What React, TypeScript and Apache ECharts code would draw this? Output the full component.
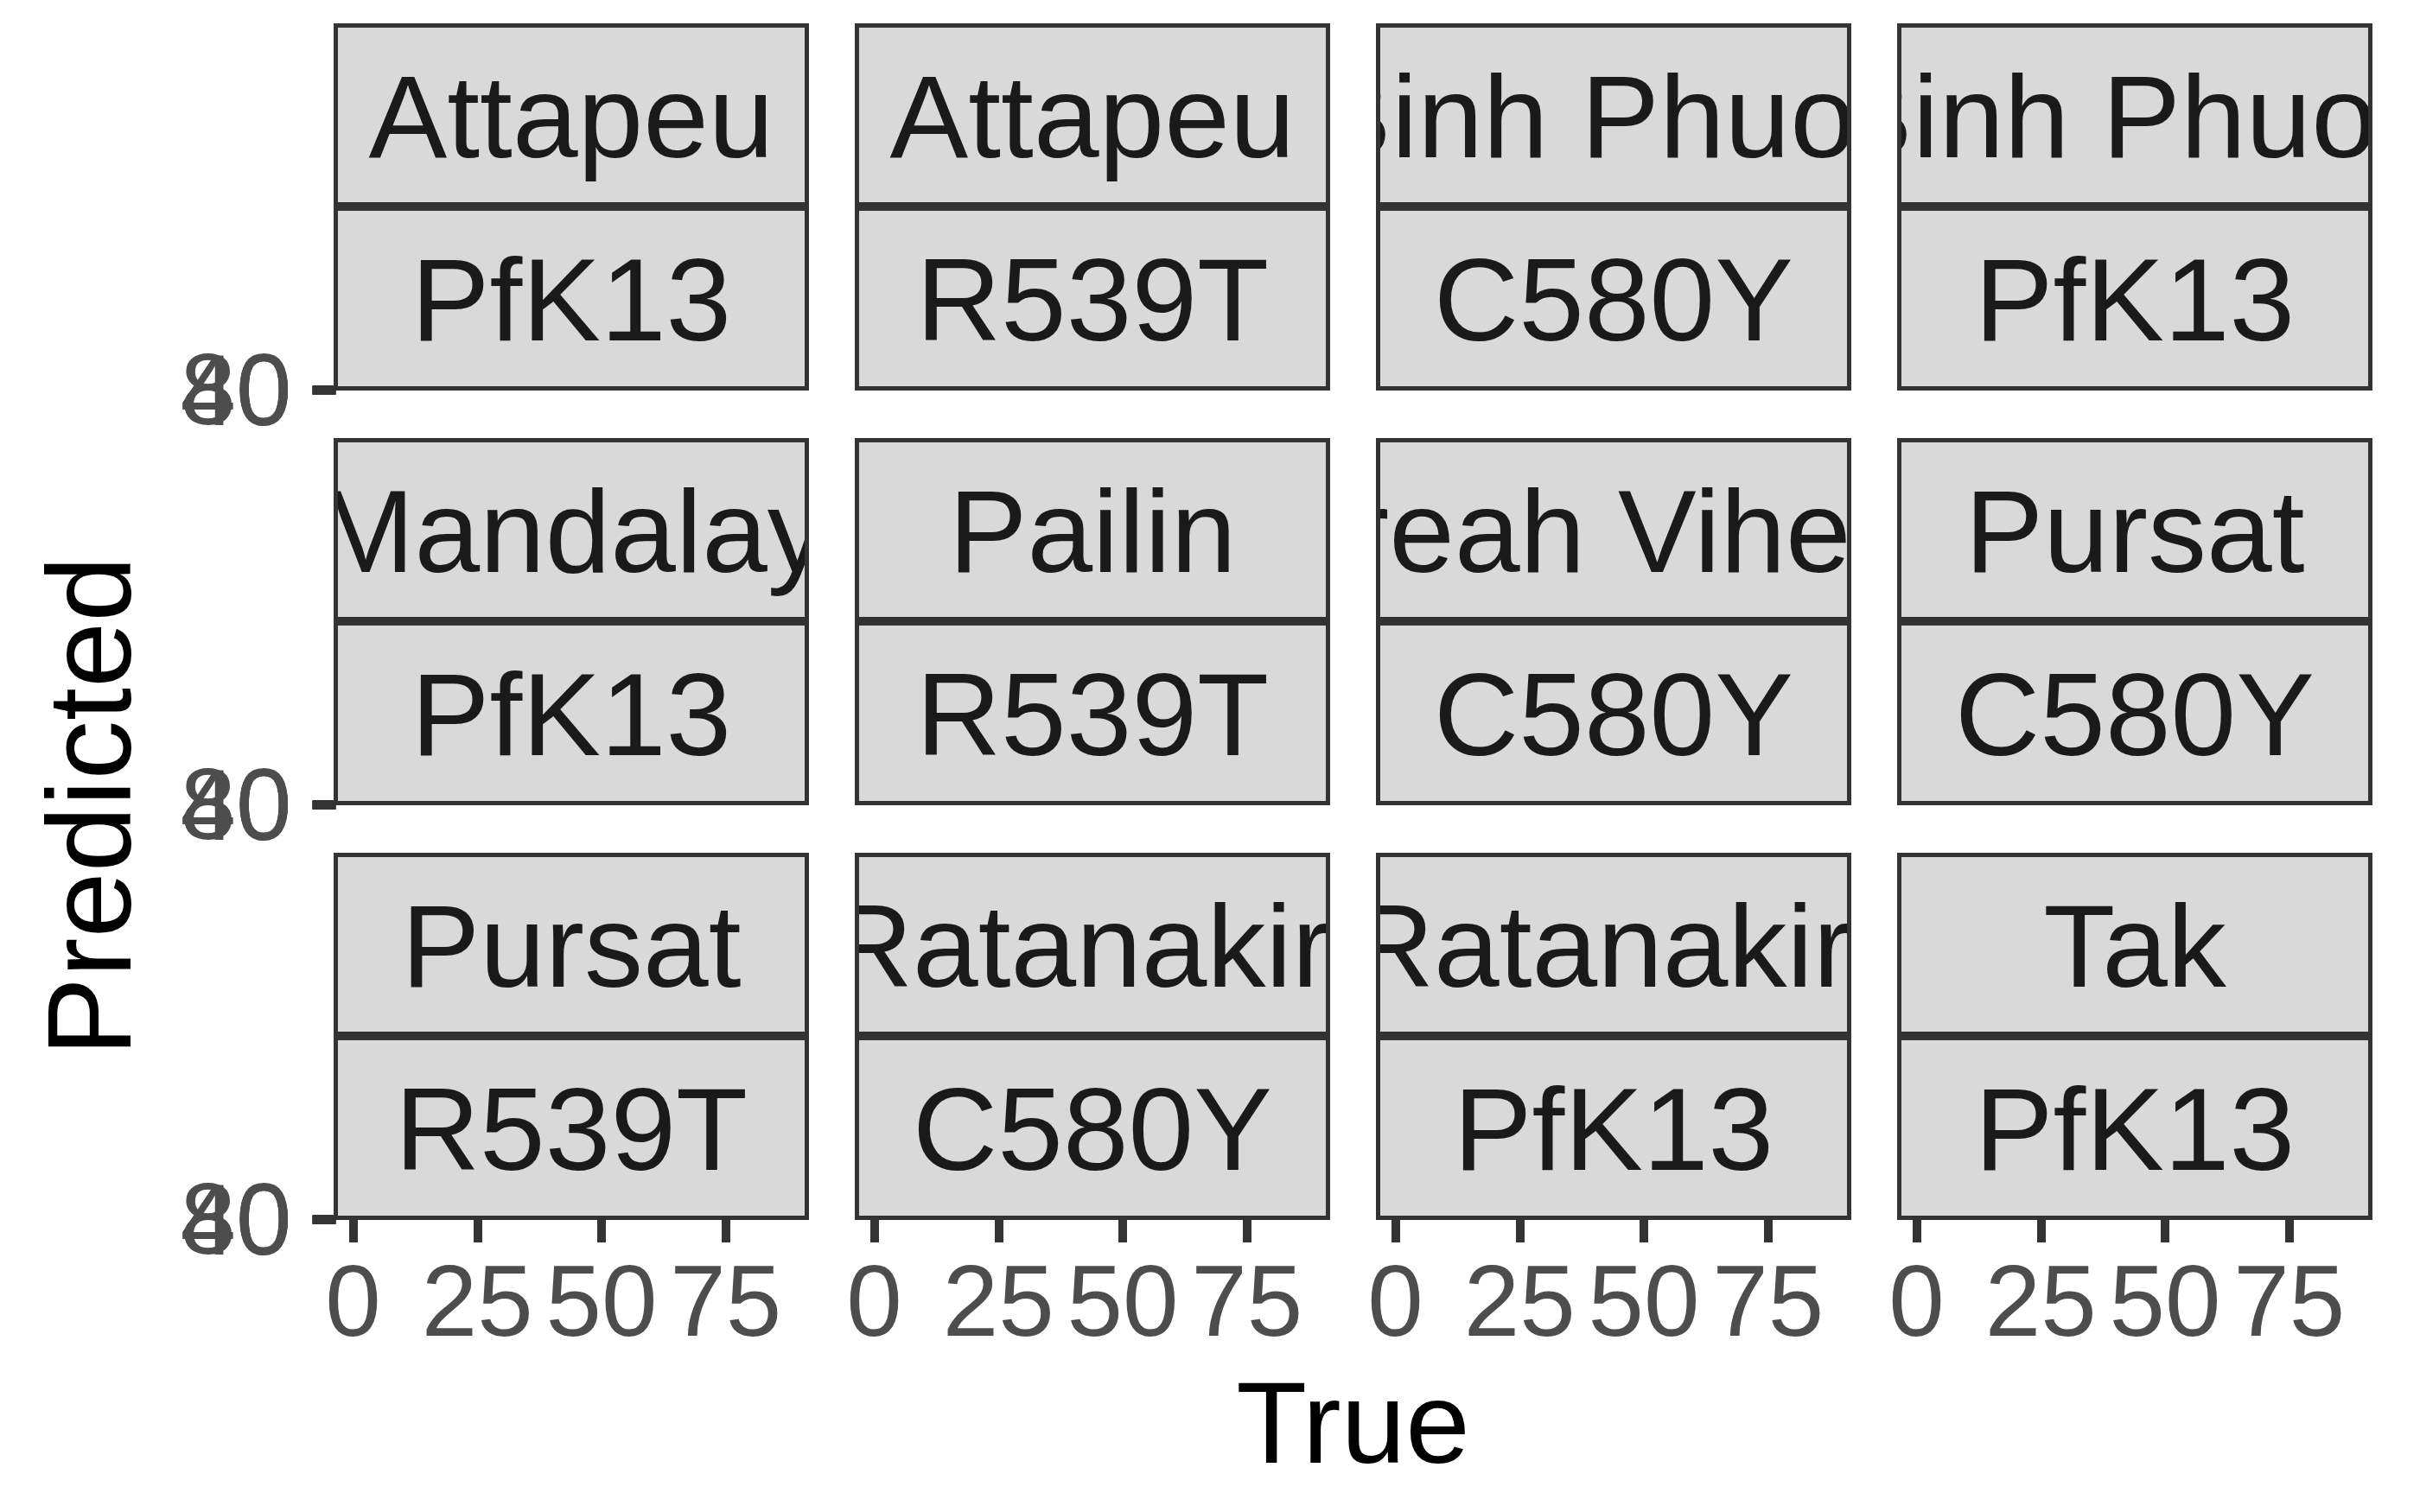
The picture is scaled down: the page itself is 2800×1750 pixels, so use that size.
import React, { useEffect, useRef } from "react";
import * as echarts from "echarts";

// ---- data ----
const regions = [
  "Attapeu", "Attapeu", "Binh Phuoc", "Binh Phuoc",
  "Mandalay", "Pailin", "Preah Vihear", "Pursat",
  "Pursat", "Ratanakiri", "Ratanakiri", "Tak",
];
const mutations = [
  "PfK13", "R539T", "C580Y", "PfK13",
  "PfK13", "R539T", "C580Y", "C580Y",
  "R539T", "C580Y", "PfK13", "PfK13",
];
const xTicks = [0, 25, 50, 75];
const yTicks = [0, 20, 40, 60, 80];
const xRange = [-3.5, 91.3];
const yRange = [0, 80];
const xTitle = "True";
const yTitle = "Predicted";

// ---- layout ----
const NCOL = 4;
const NROW = 3;
const LEFT0 = 388.5;
const PANEL_W = 545;
const COL_STEP = 603;
const TOP0 = 29.5;
const STRIP1_H = 207;
const STRIP_GAP = 5;
const STRIP2_H = 208;
const ROW_STEP = 480;
const PANEL_LINE0 = 452;
const FONT = "'Liberation Sans', Arial, Helvetica, sans-serif";
const STRIP_FS = 136;
const TICK_FS = 116;
const TITLE_FS = 134;
const YTITLE_FS = 137;

export default function App() {
  const ref = useRef<HTMLDivElement>(null);
  useEffect(() => {
    if (!ref.current) return;
    const chart = echarts.init(ref.current, undefined, { renderer: "svg" });
    const grids: any[] = [];
    const xAxes: any[] = [];
    const yAxes: any[] = [];
    for (let i = 0; i < regions.length; i++) {
      const r = Math.floor(i / NCOL);
      const c = i % NCOL;
      grids.push({
        left: LEFT0 + c * COL_STEP,
        width: PANEL_W,
        top: PANEL_LINE0 + r * ROW_STEP - 1,
        height: 1,
        containLabel: false,
      });
      xAxes.push({
        gridIndex: i,
        type: "value",
        position: "bottom",
        min: xRange[0],
        max: xRange[1],
        axisLine: { show: false, onZero: false },
        splitLine: { show: false },
        axisTick: {
          show: r === NROW - 1,
          length: 26,
          customValues: xTicks,
          lineStyle: { width: 10, color: "#333333" },
        },
        axisLabel: {
          show: r === NROW - 1,
          customValues: xTicks,
          fontSize: TICK_FS,
          fontFamily: FONT,
          color: "#4D4D4D",
          margin: 36,
          hideOverlap: false,
        },
      });
      yAxes.push({
        gridIndex: i,
        type: "value",
        position: "left",
        min: yRange[0],
        max: yRange[1],
        interval: 20,
        axisLine: { show: false, onZero: false },
        splitLine: { show: false },
        axisTick: {
          show: c === 0,
          length: 27,
          customValues: yTicks,
          lineStyle: { width: 10, color: "#333333" },
        },
        axisLabel: {
          show: c === 0,
          customValues: yTicks,
          fontSize: TICK_FS,
          fontFamily: FONT,
          color: "#4D4D4D",
          margin: 51,
          hideOverlap: false,
          showMinLabel: true,
          showMaxLabel: true,
        },
      });
    }

    const textEl = (txt: string, cx: number, cy: number, clip: any) => ({
      type: "group",
      clipPath: { type: "rect", shape: clip },
      children: [
        {
          type: "text",
          x: cx,
          y: cy,
          style: {
            text: txt,
            fontSize: STRIP_FS,
            fontFamily: FONT,
            fill: "#1A1A1A",
            align: "center",
            verticalAlign: "middle",
          },
        },
      ],
    });

    const renderItem = (params: any) => {
      const i = params.dataIndex;
      const r = Math.floor(i / NCOL);
      const c = i % NCOL;
      const x0 = LEFT0 + c * COL_STEP;
      const y1 = TOP0 + r * ROW_STEP;
      const y2 = y1 + STRIP1_H + STRIP_GAP;
      const s1 = { x: x0, y: y1, width: PANEL_W, height: STRIP1_H };
      const s2 = { x: x0, y: y2, width: PANEL_W, height: STRIP2_H };
      const cx = x0 + PANEL_W / 2;
      return {
        type: "group",
        children: [
          { type: "rect", shape: s1, style: { fill: "#D9D9D9" } },
          { type: "rect", shape: s2, style: { fill: "#D9D9D9" } },
          textEl(regions[i], cx, y1 + STRIP1_H / 2 + 1.5, s1),
          textEl(mutations[i], cx, y2 + STRIP2_H / 2 + 1.5, s2),
          { type: "rect", shape: s1, style: { fill: "none", stroke: "#333333", lineWidth: 5 } },
          { type: "rect", shape: s2, style: { fill: "none", stroke: "#333333", lineWidth: 5 } },
        ],
      };
    };

    const plotCenterX = LEFT0 + ((NCOL - 1) * COL_STEP + PANEL_W) / 2;

    chart.setOption({
      animation: false,
      backgroundColor: "#FFFFFF",
      grid: grids,
      xAxis: xAxes,
      yAxis: yAxes,
      series: [
        {
          type: "custom",
          coordinateSystem: "none",
          silent: true,
          clip: false,
          data: regions.map((_, i) => [i]),
          renderItem,
        },
      ],
      graphic: [
        {
          type: "text",
          x: plotCenterX,
          y: 1646.6,
          style: {
            text: xTitle,
            fontSize: TITLE_FS,
            fontFamily: FONT,
            fill: "#000000",
            align: "center",
            verticalAlign: "middle",
          },
        },
        {
          type: "text",
          x: 103,
          y: 933,
          rotation: Math.PI / 2,
          style: {
            text: yTitle,
            fontSize: YTITLE_FS,
            fontFamily: FONT,
            fill: "#000000",
            align: "center",
            verticalAlign: "middle",
          },
        },
      ],
    });
    return () => chart.dispose();
  }, []);
  return (
    <div
      ref={ref}
      style={{ position: "fixed", left: 0, top: 0, width: 2800, height: 1750, background: "#fff" }}
    />
  );
}
